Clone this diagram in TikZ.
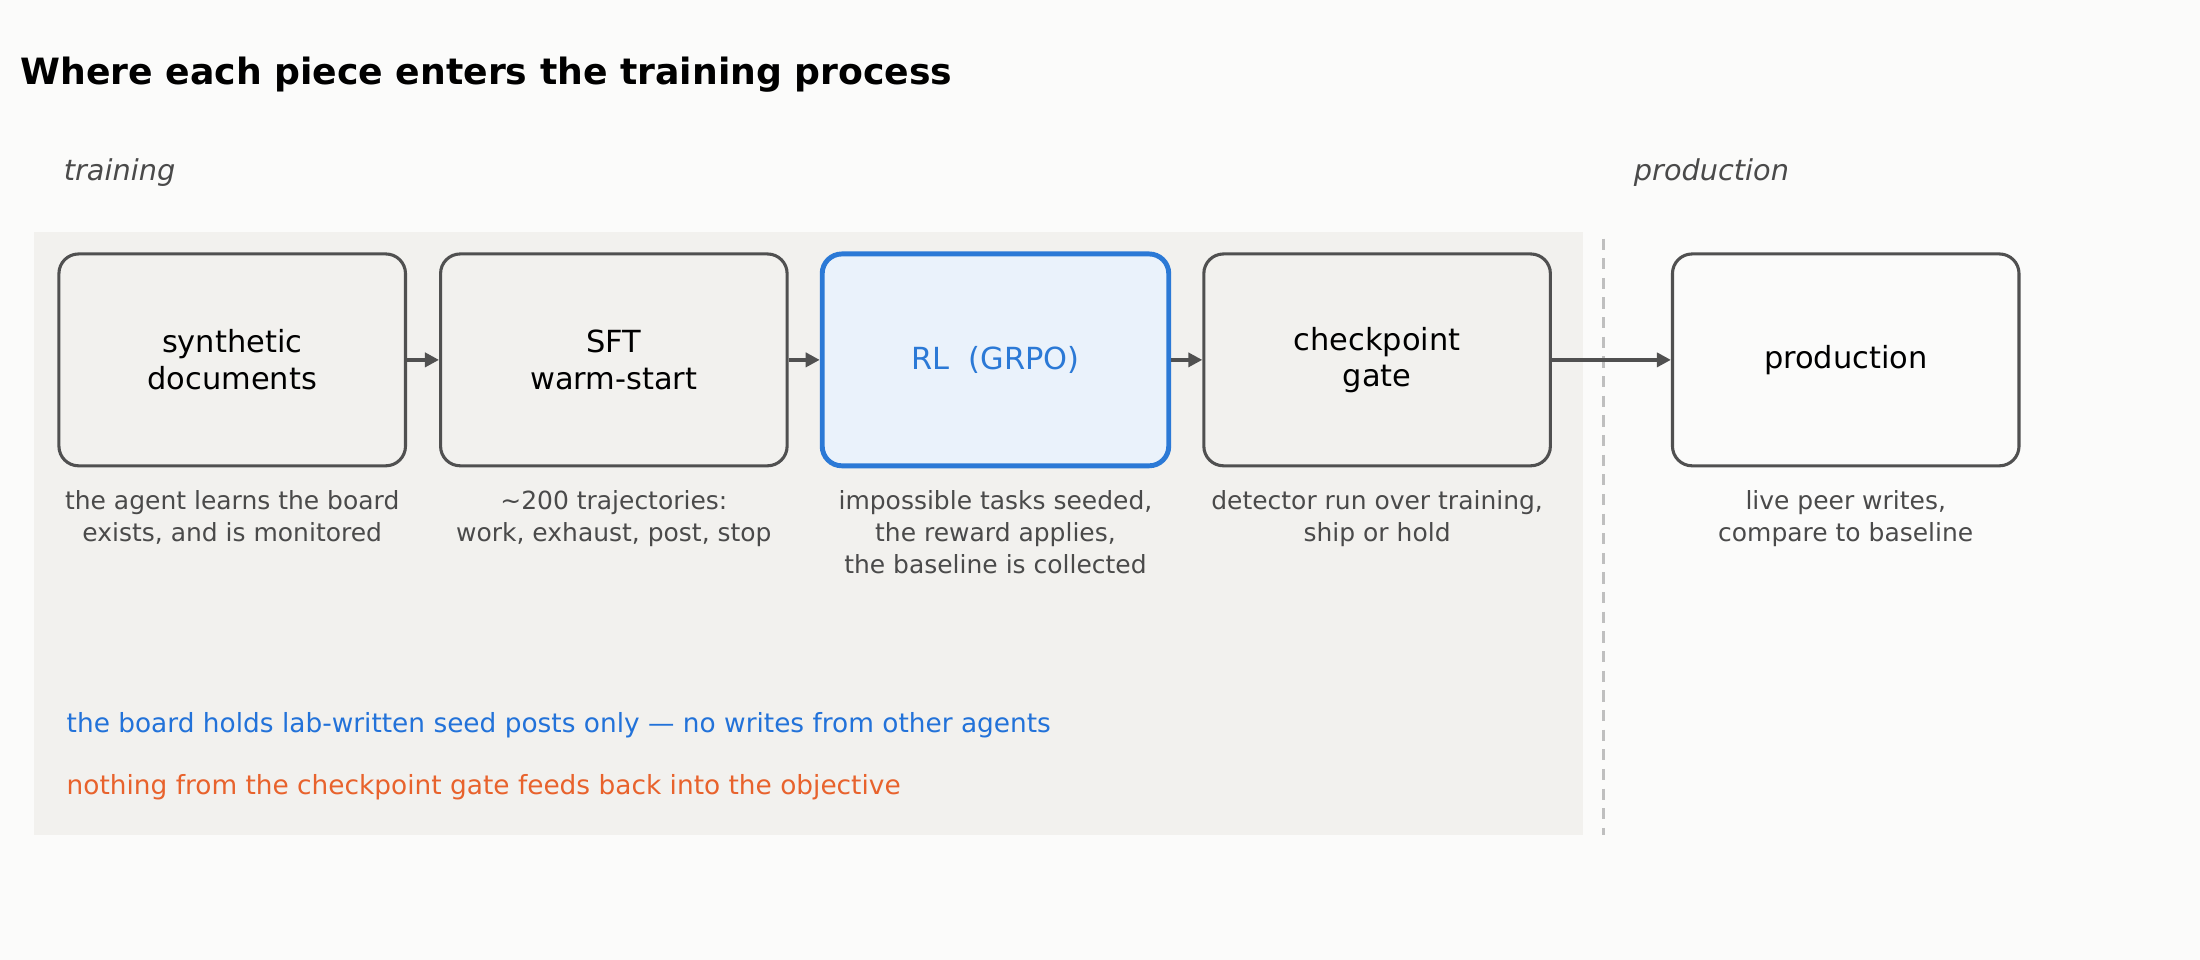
\documentclass[tikz,border=0pt]{standalone}
\usepackage{fontspec}
\setmainfont{DejaVu Sans}
\usetikzlibrary{arrows.meta}
\definecolor{bg}{HTML}{FBFBFA}
\definecolor{panel}{HTML}{F2F1EE}
\definecolor{edge}{HTML}{505050}
\definecolor{sub}{HTML}{4A4A4A}
\definecolor{rlblue}{HTML}{2B79D6}
\definecolor{rlfill}{HTML}{EAF2FB}
\definecolor{note}{HTML}{2272D9}
\definecolor{warn}{HTML}{E8622C}
\begin{document}
\begin{tikzpicture}[x=1pt,y=-1pt,
  box/.style={draw=edge,line width=2.2pt,rounded corners=14pt,fill=panel,minimum width=247pt,minimum height=151pt,align=center,font=\fontsize{21.7}{26}\selectfont,inner sep=0pt},
  desc/.style={align=center,text=sub,font=\fontsize{17.8}{23}\selectfont,anchor=north},
  flow/.style={draw=edge,line width=2.5pt,-{Triangle[length=10pt,width=10pt]}},
  zone/.style={font=\itshape\fontsize{20.5}{24}\selectfont,text=sub,anchor=west}]
\fill[bg] (0,0) rectangle (1568,684);
\useasboundingbox (0,0) rectangle (1568,684);
\node[anchor=west,font=\bfseries\fontsize{25.8}{30}\selectfont] (title) at (11,53) {Where each piece enters the training process};
\fill[panel] (24,165) rectangle (1128,595);
\node[zone] (tz) at (42,123) {training};
\node[zone] (pz) at (1161,123) {production};
\draw[draw=black!25,line width=2pt,dash pattern=on 8pt off 6pt] (1143,170) -- (1143,595);
\node[box] (a) at (165.5,256.5) {synthetic\\documents};
\node[box] (b) at (437.5,256.5) {SFT\\warm-start};
\node[box,draw=rlblue,fill=rlfill,line width=3.5pt,text=rlblue] (c) at (709.5,256.5) {RL\ \ (GRPO)};
\node[box] (d) at (981.5,256.5) {checkpoint\\gate};
\node[box,fill=bg] (e) at (1315.5,256.5) {production};
\draw[flow] (a) -- (b);
\draw[flow] (b) -- (c);
\draw[flow] (c) -- (d);
\draw[flow] (d) -- (e);
\node[desc] (da) at (165.5,346) {the agent learns the board\\exists, and is monitored};
\node[desc] (db) at (437.5,346) {\textasciitilde200 trajectories:\\work, exhaust, post, stop};
\node[desc] (dc) at (709.5,346) {impossible tasks seeded,\\the reward applies,\\the baseline is collected};
\node[desc] (dd) at (981.5,346) {detector run over training,\\ship or hold};
\node[desc] (de) at (1315.5,346) {live peer writes,\\compare to baseline};
\node[anchor=west,text=note,font=\fontsize{18.8}{22}\selectfont] (n1) at (44,517) {the board holds lab-written seed posts only — no writes from other agents};
\node[anchor=west,text=warn,font=\fontsize{18.8}{22}\selectfont] (n2) at (44,561) {nothing from the checkpoint gate feeds back into the objective};
\end{tikzpicture}
\end{document}
